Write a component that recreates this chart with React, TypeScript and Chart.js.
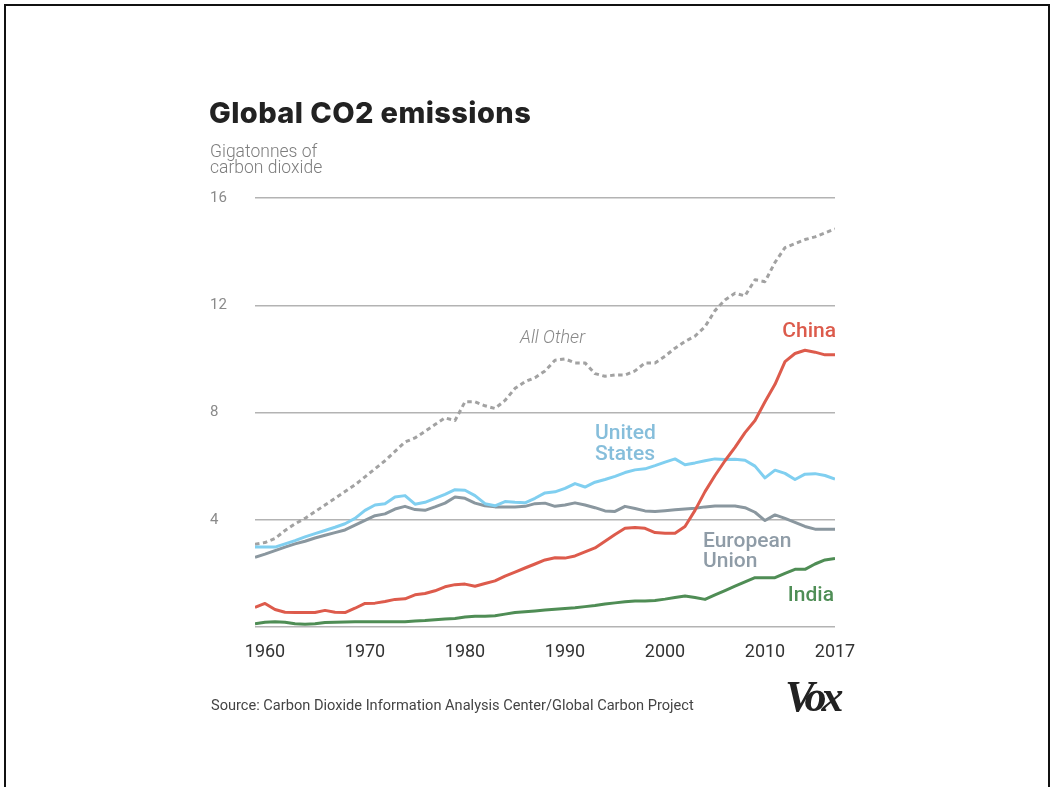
import { useEffect, useRef } from "react";
import { Chart, registerables } from "chart.js";

Chart.register(...registerables);

// Years covered by every series
const YEARS = [
  1959, 1960, 1961, 1962, 1963, 1964, 1965, 1966, 1967, 1968,
  1969, 1970, 1971, 1972, 1973, 1974, 1975, 1976, 1977, 1978,
  1979, 1980, 1981, 1982, 1983, 1984, 1985, 1986, 1987, 1988,
  1989, 1990, 1991, 1992, 1993, 1994, 1995, 1996, 1997, 1998,
  1999, 2000, 2001, 2002, 2003, 2004, 2005, 2006, 2007, 2008,
  2009, 2010, 2011, 2012, 2013, 2014, 2015, 2016, 2017,
];

// Emissions, gigatonnes of CO2 per year
const CHINA = [
  0.73, 0.88, 0.65, 0.55, 0.54, 0.54, 0.54, 0.62, 0.55, 0.54,
  0.7, 0.88, 0.89, 0.95, 1.03, 1.05, 1.2, 1.25, 1.35, 1.5,
  1.58, 1.6, 1.52, 1.62, 1.72, 1.9, 2.05, 2.2, 2.35, 2.5,
  2.58, 2.57, 2.65, 2.8, 2.95, 3.2, 3.45, 3.68, 3.71, 3.68,
  3.52, 3.5, 3.5, 3.75, 4.35, 5.05, 5.65, 6.2, 6.7, 7.25,
  7.7, 8.4, 9.05, 9.9, 10.2, 10.32, 10.25, 10.15, 10.15,
];

const UNITED_STATES = [
  2.98, 2.98, 2.98, 3.1, 3.22, 3.36, 3.48, 3.6, 3.72, 3.85,
  4.05, 4.35, 4.55, 4.6, 4.85, 4.9, 4.58, 4.65, 4.8, 4.95,
  5.12, 5.1, 4.9, 4.6, 4.52, 4.68, 4.65, 4.63, 4.8, 5.0,
  5.04, 5.17, 5.35, 5.22, 5.4, 5.5, 5.62, 5.76, 5.86, 5.9,
  6.02, 6.15, 6.27, 6.05, 6.12, 6.2, 6.27, 6.25, 6.26, 6.22,
  6.0, 5.56, 5.85, 5.73, 5.5, 5.7, 5.72, 5.65, 5.52,
];

const EUROPEAN_UNION = [
  2.6, 2.72, 2.85, 2.98, 3.1, 3.2, 3.32, 3.42, 3.52, 3.62,
  3.8, 3.98, 4.15, 4.22, 4.4, 4.5, 4.38, 4.35, 4.48, 4.62,
  4.85, 4.8, 4.62, 4.52, 4.48, 4.48, 4.48, 4.5, 4.6, 4.62,
  4.5, 4.55, 4.63, 4.55, 4.45, 4.33, 4.31, 4.5, 4.42, 4.33,
  4.31, 4.34, 4.37, 4.4, 4.43, 4.48, 4.51, 4.51, 4.51, 4.45,
  4.28, 3.97, 4.18, 4.05, 3.9, 3.75, 3.65, 3.65, 3.65,
];

const INDIA = [
  0.12, 0.18, 0.2, 0.18, 0.12, 0.1, 0.12, 0.17, 0.18, 0.19,
  0.2, 0.2, 0.2, 0.2, 0.2, 0.2, 0.22, 0.24, 0.27, 0.3,
  0.32, 0.37, 0.4, 0.4, 0.42, 0.48, 0.54, 0.57, 0.6, 0.63,
  0.66, 0.69, 0.72, 0.76, 0.8, 0.86, 0.9, 0.94, 0.97, 0.97,
  0.99, 1.04, 1.1, 1.16, 1.1, 1.03, 1.2, 1.36, 1.52, 1.68,
  1.84, 1.84, 1.84, 2.0, 2.15, 2.15, 2.35, 2.5, 2.56,
];

const ALL_OTHER = [
  3.09, 3.15, 3.3, 3.6, 3.85, 4.05, 4.3, 4.55, 4.8, 5.05,
  5.3, 5.6, 5.9, 6.2, 6.55, 6.9, 7.05, 7.3, 7.55, 7.8,
  7.7, 8.4, 8.4, 8.25, 8.15, 8.45, 8.9, 9.15, 9.3, 9.55,
  9.95, 10.0, 9.85, 9.85, 9.45, 9.35, 9.4, 9.4, 9.55, 9.85,
  9.85, 10.1, 10.4, 10.65, 10.85, 11.2, 11.8, 12.2, 12.45, 12.35,
  12.95, 12.88, 13.6, 14.15, 14.3, 14.45, 14.55, 14.7, 14.85,
];

const X_TICKS = [1960, 1970, 1980, 1990, 2000, 2010, 2017];
const Y_TICKS = [0, 4, 8, 12, 16];

const FONT = "Roboto, 'Noto Sans', sans-serif";

const series = (values: number[]) =>
  YEARS.map((year, i) => ({ x: year, y: values[i] }));

function CO2Chart() {
  const canvasRef = useRef<HTMLCanvasElement>(null);

  useEffect(() => {
    if (!canvasRef.current) return;
    const chart = new Chart(canvasRef.current, {
      type: "line",
      data: {
        datasets: [
          { label: "China", data: series(CHINA), borderColor: "#dd5b4c" },
          { label: "India", data: series(INDIA), borderColor: "#4f8d55" },
          { label: "United States", data: series(UNITED_STATES), borderColor: "#80cff0" },
          { label: "European Union", data: series(EUROPEAN_UNION), borderColor: "#8a979f" },
          {
            label: "All Other",
            data: series(ALL_OTHER),
            borderColor: "#a2a2a2",
            borderDash: [4.5, 3.5],
          },
        ],
      },
      options: {
        responsive: false,
        animation: false,
        devicePixelRatio: 1,
        layout: { padding: { left: 210, top: 198, right: 216, bottom: 120 } },
        plugins: {
          legend: { display: false },
          tooltip: { enabled: false },
        },
        elements: {
          point: { radius: 0 },
          line: { tension: 0, borderWidth: 3, borderJoinStyle: "round", fill: false },
        },
        scales: {
          x: {
            type: "linear",
            min: 1959,
            max: 2017,
            grid: { display: false },
            border: { display: false },
            afterBuildTicks: (scale: any) => {
              scale.ticks = X_TICKS.map((value) => ({ value }));
            },
            afterFit: (scale: any) => {
              scale.height = 40;
            },
            ticks: {
              autoSkip: false,
              maxRotation: 0,
              padding: 7,
              color: "#333333",
              font: { family: FONT, size: 18 },
              callback: (value: any) => String(value),
            },
          },
          y: {
            type: "linear",
            min: 0,
            max: 16,
            afterBuildTicks: (scale: any) => {
              scale.ticks = Y_TICKS.map((value) => ({ value }));
            },
            afterFit: (scale: any) => {
              scale.width = 45;
            },
            grid: { color: "#b3b3b3", lineWidth: 1.5, drawTicks: false },
            border: { display: false },
            ticks: {
              crossAlign: "far",
              padding: 0,
              color: "#8a8a8a",
              font: { family: FONT, size: 15 },
              callback: (value: any) => (value === 0 ? "" : String(value)),
            },
          },
        },
      },
    });
    return () => chart.destroy();
  }, []);

  return (
    <canvas
      ref={canvasRef}
      width={1051}
      height={787}
      style={{ position: "absolute", left: 0, top: 0, display: "block" }}
    />
  );
}

const label = (extra: React.CSSProperties): React.CSSProperties => ({
  position: "absolute",
  whiteSpace: "nowrap",
  fontFamily: FONT,
  ...extra,
});

export default function App() {
  return (
    <div
      style={{
        position: "fixed",
        inset: 0,
        background: "#ffffff",
        overflow: "hidden",
        fontFamily: FONT,
      }}
    >
      <div
        style={{
          position: "absolute",
          left: 4,
          top: 4,
          width: 1046,
          height: 900,
          boxSizing: "border-box",
          border: "2px solid #111111",
        }}
      />
      <CO2Chart />
      <div
        style={label({
          left: 209,
          top: 97.7,
          fontFamily: "Inter, Roboto, sans-serif",
          fontWeight: 800,
          fontSize: 29,
          lineHeight: "29px",
          letterSpacing: "0.4px",
          color: "#222222",
        })}
      >
        Global CO2 emissions
      </div>
      <div
        style={label({
          left: 210,
          top: 143.3,
          fontWeight: 300,
          fontSize: 17.5,
          lineHeight: "16px",
          color: "#7d7d7d",
        })}
      >
        Gigatonnes of
        <br />
        carbon dioxide
      </div>
      <div
        style={label({
          left: 520,
          top: 327.8,
          fontWeight: 300,
          fontStyle: "italic",
          fontSize: 18,
          lineHeight: "18px",
          color: "#888888",
        })}
      >
        All Other
      </div>
      <div
        style={label({
          right: 215,
          top: 320,
          fontWeight: 500,
          fontSize: 21,
          lineHeight: "21px",
          color: "#dc5b4c",
        })}
      >
        China
      </div>
      <div
        style={label({
          left: 595,
          top: 421.8,
          fontWeight: 500,
          fontSize: 21,
          lineHeight: "20.7px",
          color: "#86bedb",
        })}
      >
        United
        <br />
        States
      </div>
      <div
        style={label({
          left: 703,
          top: 529.5,
          fontWeight: 500,
          fontSize: 21,
          lineHeight: "20px",
          color: "#8f9ca7",
        })}
      >
        European
        <br />
        Union
      </div>
      <div
        style={label({
          right: 217,
          top: 584,
          fontWeight: 500,
          fontSize: 21,
          lineHeight: "21px",
          color: "#4f8e56",
        })}
      >
        India
      </div>
      <div
        style={label({
          left: 211,
          top: 697.7,
          fontSize: 14.6,
          lineHeight: "14.6px",
          color: "#444444",
        })}
      >
        Source: Carbon Dioxide Information Analysis Center/Global Carbon Project
      </div>
      <div
        style={label({
          left: 785,
          top: 675,
          fontFamily: "'Liberation Serif', 'DejaVu Serif', serif",
          fontWeight: 700,
          fontStyle: "italic",
          fontSize: 44,
          lineHeight: "44px",
          letterSpacing: "-5px",
          color: "#222222",
        })}
      >
        Vox
      </div>
    </div>
  );
}
